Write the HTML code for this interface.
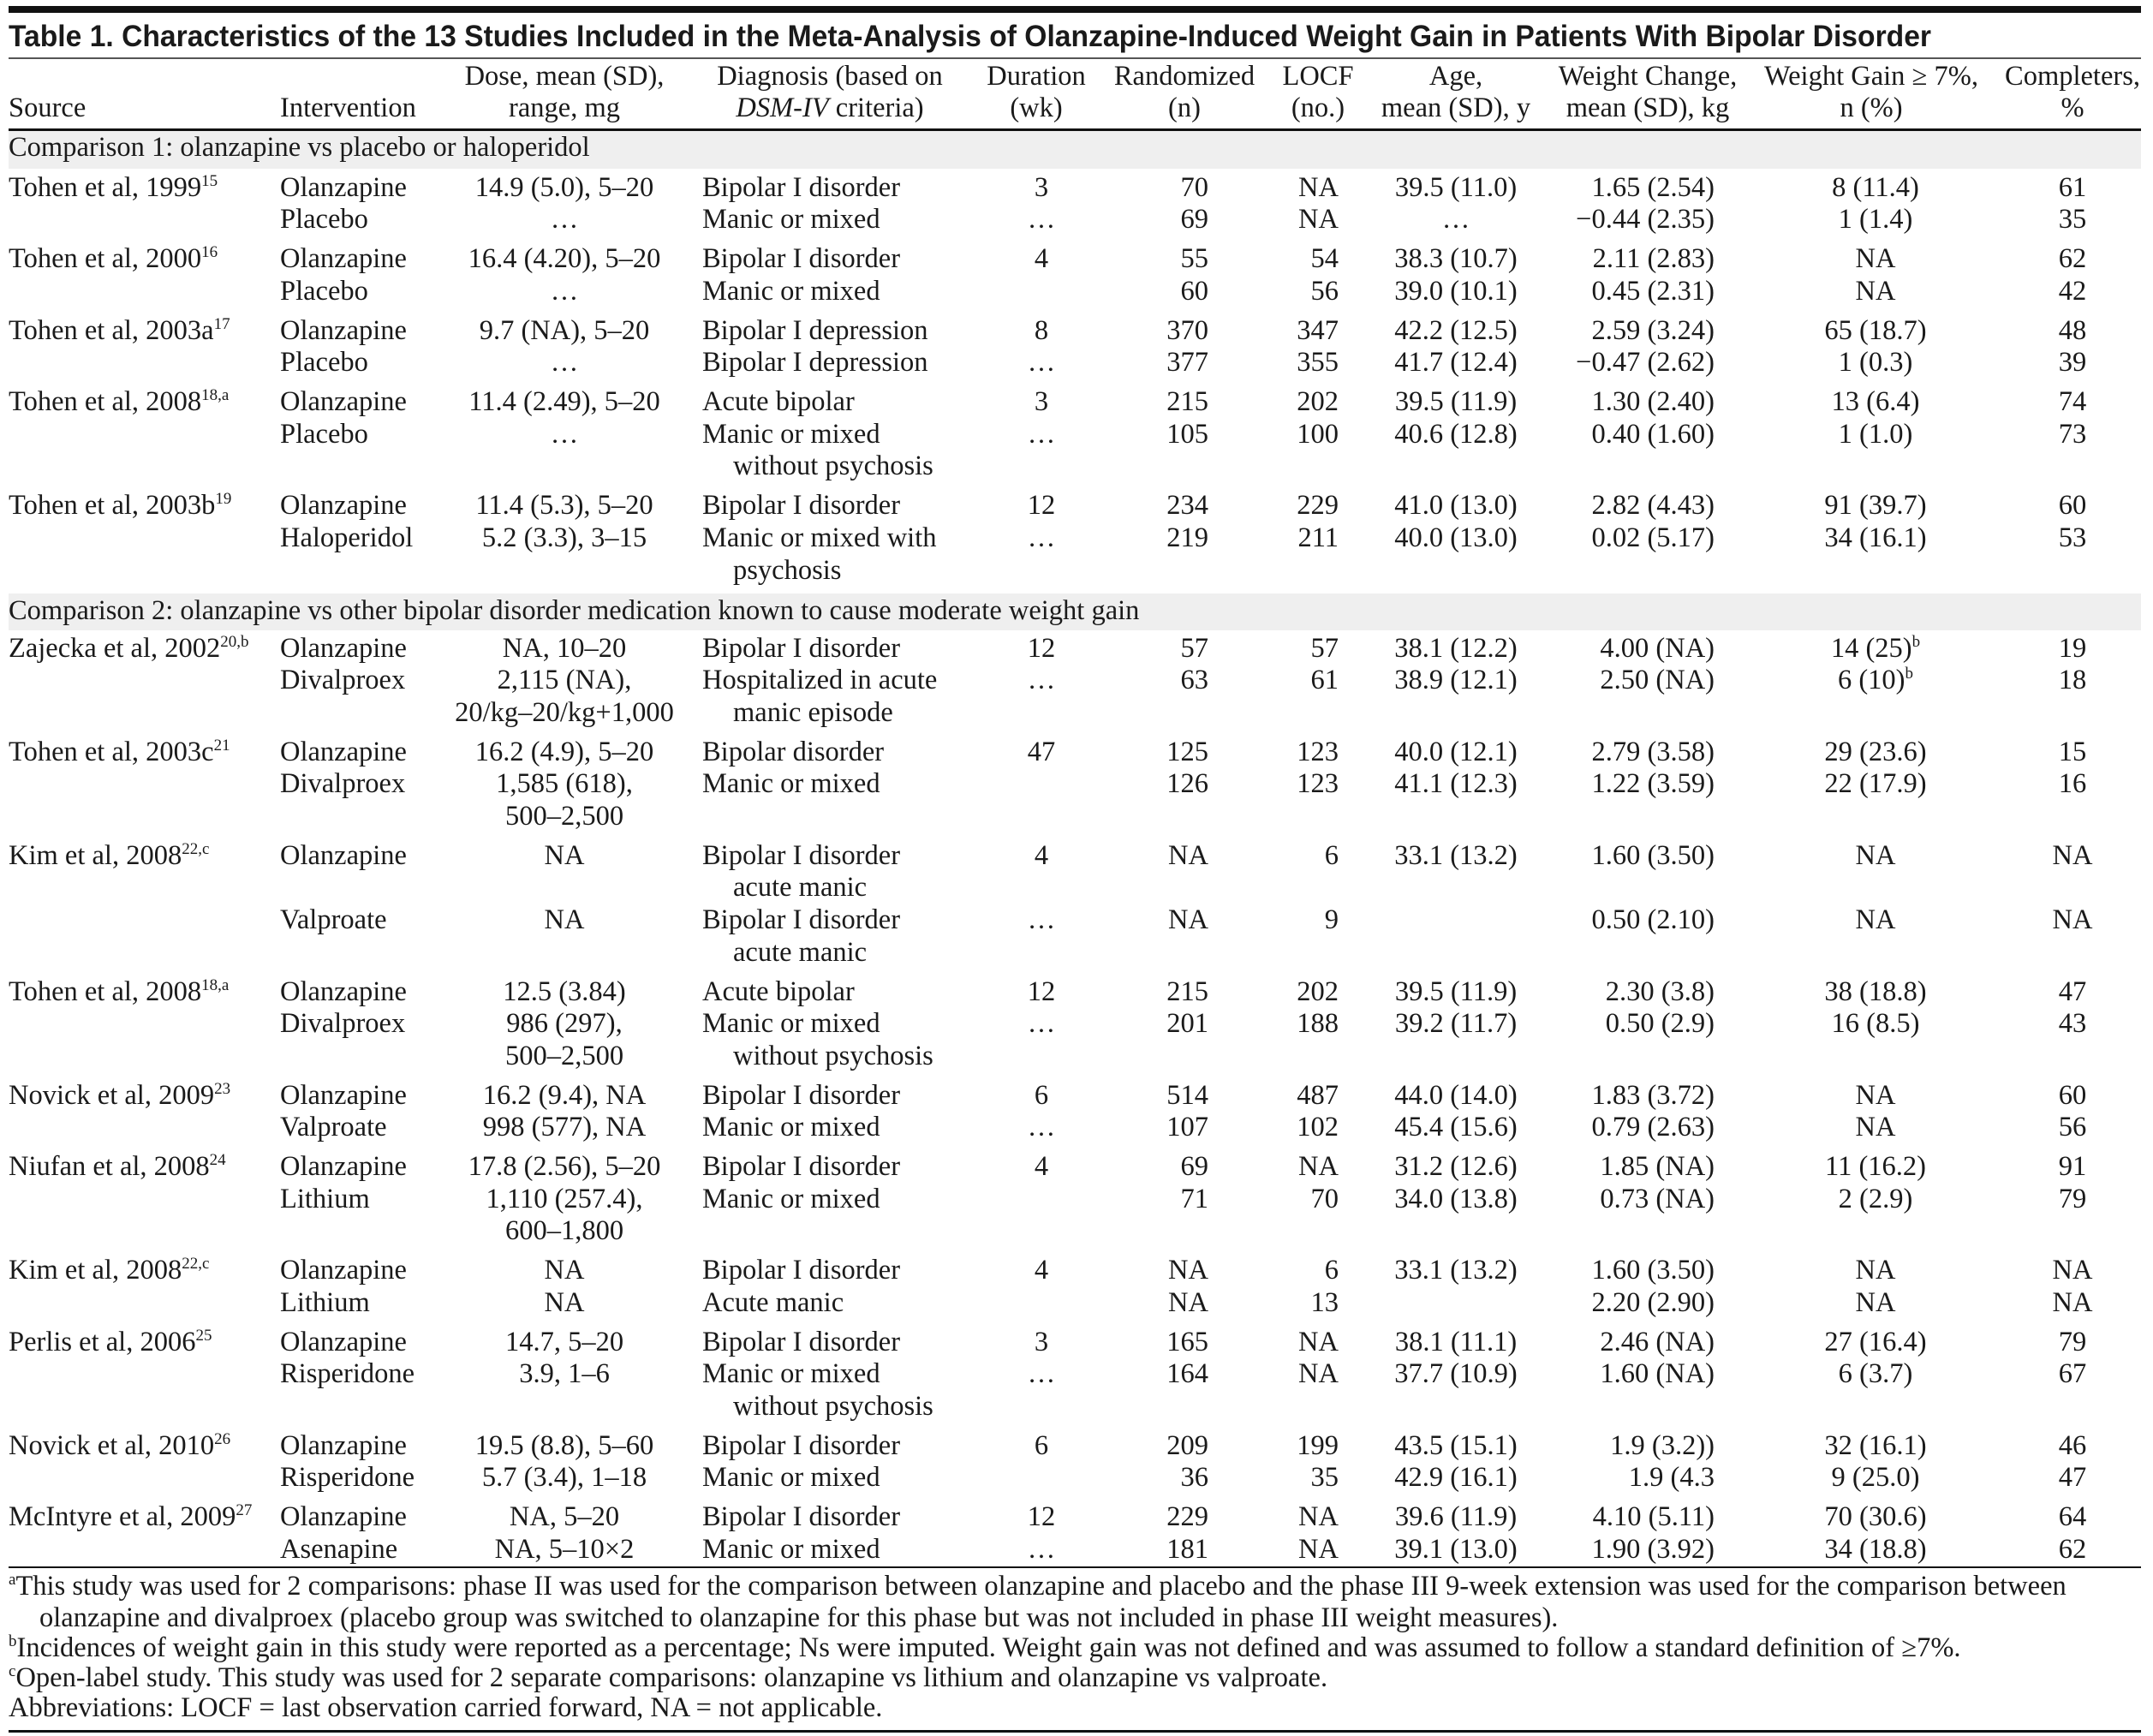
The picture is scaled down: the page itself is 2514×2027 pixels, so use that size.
<!DOCTYPE html>
<html><head><meta charset="utf-8">
<style>
html,body{margin:0;padding:0;background:#fff;}
#page{position:relative;width:2514px;height:2027px;overflow:hidden;background:#fff;font-family:"Liberation Serif",serif;color:#1a1a1a;}
.t{position:absolute;white-space:nowrap;font-size:32.5px;line-height:32.5px;}
.t sup{font-size:19px;line-height:0;vertical-align:12px;}
.rule{position:absolute;left:10px;width:2490px;background:#111;}
.band{position:absolute;left:10px;width:2490px;background:#efefef;}
#title{position:absolute;left:10px;top:25px;font-family:"Liberation Sans",sans-serif;font-weight:bold;font-size:35px;line-height:35px;white-space:nowrap;transform-origin:0 0;color:#1a1a1a;}
</style></head>
<body>
<div id="page">
<div class="rule" style="top:7px;height:8px;"></div>
<div id="title">Table 1. Characteristics of the 13 Studies Included in the Meta-Analysis of Olanzapine-Induced Weight Gain in Patients With Bipolar Disorder</div>
<div class="rule" style="top:67px;height:2px;background:#555;"></div>
<div class="rule" style="top:150px;height:3px;"></div>
<div class="rule" style="top:1829px;height:2px;"></div>
<div class="rule" style="top:2020px;height:3px;"></div>
</div>
<script>
const page=document.getElementById('page');
const BASE=27.2;
function T(html,x,base,align,name){
  const d=document.createElement('div');
  d.className='t';
  d.innerHTML=html;
  d.style.left=x+'px';
  d.style.top=(base-BASE)+'px';
  if(align==='c')d.style.transform='translateX(-50%)';
  if(align==='r')d.style.transform='translateX(-100%)';
  
  
  page.appendChild(d);
  return d;
}
function fit(el,w){
  const nw=el.getBoundingClientRect().width;
  if(nw>0){el.style.transformOrigin='0 0';el.style.transform='scaleX('+(w/nw)+')';}
}
fit(document.getElementById('title'),2245);

const hdr=[
 ['Source','',10,'l'],['Intervention','',327,'l'],
 ['Dose, mean (SD),','range, mg',659,'c'],
 ['Diagnosis (based on','<i>DSM-IV</i> criteria)',969,'c'],
 ['Duration','(wk)',1210,'c'],['Randomized','(n)',1383,'c'],
 ['LOCF','(no.)',1539,'c'],['Age,','mean (SD), y',1700,'c'],
 ['Weight Change,','mean (SD), kg',1924,'c'],['Weight Gain ≥ 7%,','n (%)',2185,'c'],
 ['Completers,','%',2420,'c']];
hdr.forEach(h=>{
  if(h[1]===''){T(h[0],h[2],137,h[3],'header-'+h[0].toLowerCase());}
  else{T(h[0],h[2],100,h[3],'header-line1');T(h[1],h[2],137,h[3],'header-line2');}
});

const comp1=[
 ['Tohen et al, 1999','15',[
  ['Olanzapine',['14.9 (5.0), 5–20'],['Bipolar I disorder'],'3','70','NA','39.5 (11.0)','1.65 (2.54)','8 (11.4)','61'],
  ['Placebo',['…'],['Manic or mixed'],'…','69','NA','…','−0.44 (2.35)','1 (1.4)','35']]],
 ['Tohen et al, 2000','16',[
  ['Olanzapine',['16.4 (4.20), 5–20'],['Bipolar I disorder'],'4','55','54','38.3 (10.7)','2.11 (2.83)','NA','62'],
  ['Placebo',['…'],['Manic or mixed'],'','60','56','39.0 (10.1)','0.45 (2.31)','NA','42']]],
 ['Tohen et al, 2003a','17',[
  ['Olanzapine',['9.7 (NA), 5–20'],['Bipolar I depression'],'8','370','347','42.2 (12.5)','2.59 (3.24)','65 (18.7)','48'],
  ['Placebo',['…'],['Bipolar I depression'],'…','377','355','41.7 (12.4)','−0.47 (2.62)','1 (0.3)','39']]],
 ['Tohen et al, 2008','18,a',[
  ['Olanzapine',['11.4 (2.49), 5–20'],['Acute bipolar'],'3','215','202','39.5 (11.9)','1.30 (2.40)','13 (6.4)','74'],
  ['Placebo',['…'],['Manic or mixed','without psychosis'],'…','105','100','40.6 (12.8)','0.40 (1.60)','1 (1.0)','73']]],
 ['Tohen et al, 2003b','19',[
  ['Olanzapine',['11.4 (5.3), 5–20'],['Bipolar I disorder'],'12','234','229','41.0 (13.0)','2.82 (4.43)','91 (39.7)','60'],
  ['Haloperidol',['5.2 (3.3), 3–15'],['Manic or mixed with','psychosis'],'…','219','211','40.0 (13.0)','0.02 (5.17)','34 (16.1)','53']]]
];
const comp2=[
 ['Zajecka et al, 2002','20,b',[
  ['Olanzapine',['NA, 10–20'],['Bipolar I disorder'],'12','57','57','38.1 (12.2)','4.00 (NA)','14 (25)<sup>b</sup>','19'],
  ['Divalproex',['2,115 (NA),','20/kg–20/kg+1,000'],['Hospitalized in acute','manic episode'],'…','63','61','38.9 (12.1)','2.50 (NA)','6 (10)<sup>b</sup>','18']]],
 ['Tohen et al, 2003c','21',[
  ['Olanzapine',['16.2 (4.9), 5–20'],['Bipolar disorder'],'47','125','123','40.0 (12.1)','2.79 (3.58)','29 (23.6)','15'],
  ['Divalproex',['1,585 (618),','500–2,500'],['Manic or mixed'],'','126','123','41.1 (12.3)','1.22 (3.59)','22 (17.9)','16']]],
 ['Kim et al, 2008','22,c',[
  ['Olanzapine',['NA'],['Bipolar I disorder','acute manic'],'4','NA','6','33.1 (13.2)','1.60 (3.50)','NA','NA'],
  ['Valproate',['NA'],['Bipolar I disorder','acute manic'],'…','NA','9','','0.50 (2.10)','NA','NA']]],
 ['Tohen et al, 2008','18,a',[
  ['Olanzapine',['12.5 (3.84)'],['Acute bipolar'],'12','215','202','39.5 (11.9)','2.30 (3.8)','38 (18.8)','47'],
  ['Divalproex',['986 (297),','500–2,500'],['Manic or mixed','without psychosis'],'…','201','188','39.2 (11.7)','0.50 (2.9)','16 (8.5)','43']]],
 ['Novick et al, 2009','23',[
  ['Olanzapine',['16.2 (9.4), NA'],['Bipolar I disorder'],'6','514','487','44.0 (14.0)','1.83 (3.72)','NA','60'],
  ['Valproate',['998 (577), NA'],['Manic or mixed'],'…','107','102','45.4 (15.6)','0.79 (2.63)','NA','56']]],
 ['Niufan et al, 2008','24',[
  ['Olanzapine',['17.8 (2.56), 5–20'],['Bipolar I disorder'],'4','69','NA','31.2 (12.6)','1.85 (NA)','11 (16.2)','91'],
  ['Lithium',['1,110 (257.4),','600–1,800'],['Manic or mixed'],'','71','70','34.0 (13.8)','0.73 (NA)','2 (2.9)','79']]],
 ['Kim et al, 2008','22,c',[
  ['Olanzapine',['NA'],['Bipolar I disorder'],'4','NA','6','33.1 (13.2)','1.60 (3.50)','NA','NA'],
  ['Lithium',['NA'],['Acute manic'],'','NA','13','','2.20 (2.90)','NA','NA']]],
 ['Perlis et al, 2006','25',[
  ['Olanzapine',['14.7, 5–20'],['Bipolar I disorder'],'3','165','NA','38.1 (11.1)','2.46 (NA)','27 (16.4)','79'],
  ['Risperidone',['3.9, 1–6'],['Manic or mixed','without psychosis'],'…','164','NA','37.7 (10.9)','1.60 (NA)','6 (3.7)','67']]],
 ['Novick et al, 2010','26',[
  ['Olanzapine',['19.5 (8.8), 5–60'],['Bipolar I disorder'],'6','209','199','43.5 (15.1)','1.9 (3.2))','32 (16.1)','46'],
  ['Risperidone',['5.7 (3.4), 1–18'],['Manic or mixed'],'','36','35','42.9 (16.1)','1.9 (4.3','9 (25.0)','47']]],
 ['McIntyre et al, 2009','27',[
  ['Olanzapine',['NA, 5–20'],['Bipolar I disorder'],'12','229','NA','39.6 (11.9)','4.10 (5.11)','70 (30.6)','64'],
  ['Asenapine',['NA, 5–10×2'],['Manic or mixed'],'…','181','NA','39.1 (13.0)','1.90 (3.92)','34 (18.8)','62']]]
];

const PITCH=37.65, GAP=45.8;
function band(top,h,text,name){
  const b=document.createElement('div');
  b.className='band';
  b.style.top=top+'px';b.style.height=h+'px';
  
  
  page.insertBefore(b,page.firstChild);
  return T(text,10,top+31,'l',name+'-label');
}
function drawStudies(list,y){
  list.forEach((s,si)=>{
    T(s[0]+'<sup>'+s[1]+'</sup>',10,y,'l','study-source');
    let ry=y;
    s[2].forEach(r=>{
      T(r[0],327,ry,'l','intervention');
      r[1].forEach((l,i)=>T(l,659,ry+i*PITCH,'c','dose'));
      r[2].forEach((l,i)=>T(l,i===0?820:856,ry+i*PITCH,'l','diagnosis'));
      if(r[3])T(r[3],1216,ry,'c','duration');
      T(r[4],1411,ry,'r','randomized');
      T(r[5],1563,ry,'r','locf');
      if(r[6])T(r[6],1700,ry,'c','age');
      T(r[7],2002,ry,'r','weight-change');
      T(r[8],2190,ry,'c','weight-gain');
      T(r[9],2420,ry,'c','completers');
      const n=Math.max(r[1].length,r[2].length);
      ry+=n*PITCH;
    });
    y=ry-PITCH+GAP;
  });
  return y-GAP;
}
band(152,45,'Comparison 1: olanzapine vs placebo or haloperidol','comparison-1');
let last=drawStudies(comp1,230);
const b2top=last+16;
band(b2top,43,'Comparison 2: olanzapine vs other bipolar disorder medication known to cause moderate weight gain','comparison-2');
drawStudies(comp2,b2top+43+32);

const fn=[
 ['<sup>a</sup>This study was used for 2 comparisons: phase II was used for the comparison between olanzapine and placebo and the phase III 9-week extension was used for the comparison between',10,1863,'footnote-a'],
 ['olanzapine and divalproex (placebo group was switched to olanzapine for this phase but was not included in phase III weight measures).',46,1900,'footnote-a-cont'],
 ['<sup>b</sup>Incidences of weight gain in this study were reported as a percentage; Ns were imputed. Weight gain was not defined and was assumed to follow a standard definition of ≥7%.',10,1935,'footnote-b'],
 ['<sup>c</sup>Open-label study. This study was used for 2 separate comparisons: olanzapine vs lithium and olanzapine vs valproate.',10,1970,'footnote-c'],
 ['Abbreviations: LOCF = last observation carried forward, NA = not applicable.',10,2005,'footnote-abbreviations']
];
fn.forEach(f=>{T(f[0],f[1],f[2],'l',f[3]);});
</script>
</body></html>
